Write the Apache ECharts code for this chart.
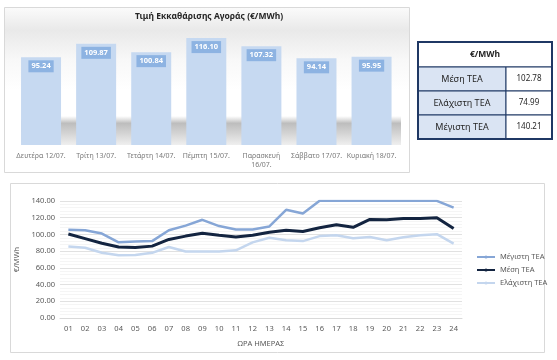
<!DOCTYPE html>
<html>
<head>
<meta charset="utf-8">
<script src="https://cdn.jsdelivr.net/npm/echarts@6/dist/echarts.min.js"></script>
<style>
html,body{margin:0;padding:0;background:#fff;}
#c{width:557px;height:360px;}
</style>
</head>
<body>
<div id="c"></div>
<script>
const barTitle = 'Τιμή Εκκαθάρισης Αγοράς (€/MWh)';
const days = ['Δευτέρα 12/07.', 'Τρίτη 13/07.', 'Τετάρτη 14/07.', 'Πέμπτη 15/07.', 'Παρασκευή 16/07.', 'Σάββατο 17/07.', 'Κυριακή 18/07.'];
const dailyPrice = [95.24, 109.87, 100.84, 116.10, 107.32, 94.14, 95.95];

const tableHeader = '€/MWh';
const tableLabels = ['Μέση ΤΕΑ', 'Ελάχιστη ΤΕΑ', 'Μέγιστη ΤΕΑ'];
const tableValues = [102.78, 74.99, 140.21];

const hours = ['01','02','03','04','05','06','07','08','09','10','11','12','13','14','15','16','17','18','19','20','21','22','23','24'];
const seriesNames = ['Μέγιστη ΤΕΑ', 'Μέση ΤΕΑ', 'Ελάχιστη ΤΕΑ'];
const maxTEA = [105.5, 105, 101, 90.5, 91.5, 92, 105, 110.5, 117.5, 110, 106, 106, 109.5, 129.5, 125, 140.21, 140.21, 140.21, 140.21, 140.21, 140.21, 140.21, 140.21, 132];
const meanTEA = [100.5, 95, 89.5, 85, 84.5, 86, 94, 98, 101.5, 99, 97, 99, 102.5, 105, 103.5, 108, 111.5, 108.5, 118, 117.5, 119, 119, 120, 107];
const minTEA = [85.5, 84, 78, 74.99, 75.5, 78, 85, 79.5, 79.5, 79.5, 81, 90.5, 96, 93, 92, 98, 99, 95.5, 97, 93, 96.5, 99, 100.3, 89];

const FONT = '"Noto Sans", "Open Sans", sans-serif';
const NAVY = '#1f3864';

// table graphic built from arrays
const tX = 418, tY = 42, c1 = 88, c2 = 46, hH = 25, rH = 24;
const tableEls = [];
tableEls.push({type:'rect', z:10, shape:{x:tX, y:tY, width:c1+c2, height:hH}, style:{fill:'#fff', stroke:NAVY, lineWidth:1}});
tableEls.push({type:'text', z:11, x:tX+(c1+c2)/2, y:tY+hH/2, style:{text:tableHeader, align:'center', verticalAlign:'middle', font:'bold 8.5px ' + FONT, fill:'#262626'}});
tableLabels.forEach(function(lab, i){
  const y = tY + hH + i*rH;
  tableEls.push({type:'rect', z:10, shape:{x:tX, y:y, width:c1, height:rH}, style:{fill:'#dae4f3', stroke:NAVY, lineWidth:1}});
  tableEls.push({type:'rect', z:10, shape:{x:tX+c1, y:y, width:c2, height:rH}, style:{fill:'#fff', stroke:NAVY, lineWidth:1}});
  tableEls.push({type:'text', z:11, x:tX+c1/2, y:y+rH/2, style:{text:lab, align:'center', verticalAlign:'middle', font:'9px ' + FONT, fill:'#262626'}});
  tableEls.push({type:'text', z:11, x:tX+c1+c2/2, y:y+rH/2, style:{text:tableValues[i].toFixed(2), align:'center', verticalAlign:'middle', font:'8px ' + FONT, fill:'#262626'}});
});
tableEls.push({type:'rect', z:12, shape:{x:tX, y:tY, width:c1+c2, height:hH+3*rH}, style:{fill:'none', stroke:NAVY, lineWidth:2}});

const chart = echarts.init(document.getElementById('c'), null, {renderer:'canvas'});
chart.setOption({
  animation:false,
  backgroundColor:'#ffffff',
  textStyle:{fontFamily:FONT},
  graphic:{elements:[
    {type:'rect', z:-10, shape:{x:4.5, y:7.5, width:405, height:165},
      style:{stroke:'#d9d9d9', lineWidth:1,
        fill:{type:'linear', x:0, y:0, x2:0, y2:1, colorStops:[
          {offset:0, color:'#fbfbfb'}, {offset:0.14, color:'#e9e9e9'}, {offset:0.32, color:'#f8f8f8'}, {offset:0.5, color:'#ffffff'}, {offset:1, color:'#ffffff'}]}}},
    {type:'rect', z:-9, shape:{x:21, y:116, width:380, height:29},
      style:{fill:{type:'linear', x:0, y:0, x2:0, y2:1, colorStops:[
        {offset:0, color:'rgba(200,200,200,0)'}, {offset:0.25, color:'#bdbdbd'}, {offset:0.6, color:'#d4d4d4'}, {offset:1, color:'#efefef'}]}}},
    {type:'text', z:5, x:209, y:17, style:{text:barTitle, align:'center', verticalAlign:'middle', font:'bold 8.5px ' + FONT, fill:'#262626'}},
    {type:'rect', z:-10, shape:{x:10.5, y:183.5, width:534, height:169}, style:{fill:'#fff', stroke:'#d9d9d9', lineWidth:1}}
  ].concat(tableEls)},
  grid:[
    {left:13.5, top:34.5, width:385.6, height:110.5},
    {left:60, top:201, width:402, height:117}
  ],
  xAxis:[
    {gridIndex:0, type:'category', data:days, axisLine:{show:false}, axisTick:{show:false},
      axisLabel:{interval:0, fontSize:7, color:'#7a7a7a', margin:6, lineHeight:9.5,
        formatter:function(v){ return v.length > 15 ? v.replace(' ', '\n') : v; }}},
    {gridIndex:1, type:'category', data:hours, axisLine:{lineStyle:{color:'#d9d9d9'}}, axisTick:{show:false},
      axisLabel:{interval:0, fontSize:7.5, color:'#595959', margin:7},
      name:'ΩΡΑ ΗΜΕΡΑΣ', nameLocation:'middle', nameGap:22, nameTextStyle:{fontSize:7.5, color:'#595959'}}
  ],
  yAxis:[
    {gridIndex:0, type:'value', min:0, max:120, show:false},
    {gridIndex:1, type:'value', min:0, max:140, interval:20,
      axisLine:{show:false}, axisTick:{show:false},
      axisLabel:{fontSize:7.5, color:'#595959', margin:5, formatter:function(v){return v.toFixed(2);}},
      splitLine:{lineStyle:{color:'#d9d9d9', width:0.8}},
      minorTick:{show:false, splitNumber:5},
      minorSplitLine:{show:true, lineStyle:{color:'#f2f2f2', width:0.8}},
      name:'€/MWh', nameLocation:'middle', nameGap:28, nameTextStyle:{fontSize:7.5, color:'#595959'}}
  ],
  legend:{orient:'vertical', left:471, top:248, itemWidth:18, itemHeight:4, itemGap:5,
    data:seriesNames, textStyle:{fontSize:7.5, color:'#595959'}},
  series:[
    {type:'bar', xAxisIndex:0, yAxisIndex:0, data:dailyPrice, barWidth:40, z:3,
      itemStyle:{color:'#c6d9f1'},
      label:{show:true, position:'insideTop', distance:3, color:'#ffffff', fontWeight:'bold', fontSize:7.5,
        backgroundColor:'#8db3e2', padding:[2,3,2,3], formatter:function(p){return p.value.toFixed(2);}}},
    {type:'line', name:seriesNames[0], xAxisIndex:1, yAxisIndex:1, data:maxTEA, symbol:'none', z:3,
      lineStyle:{color:'#86a6d6', width:2.5}, itemStyle:{color:'#86a6d6'}},
    {type:'line', name:seriesNames[1], xAxisIndex:1, yAxisIndex:1, data:meanTEA, symbol:'none', z:5,
      lineStyle:{color:'#132440', width:3}, itemStyle:{color:'#132440'}},
    {type:'line', name:seriesNames[2], xAxisIndex:1, yAxisIndex:1, data:minTEA, symbol:'none', z:4,
      lineStyle:{color:'#c4d6ee', width:2.5}, itemStyle:{color:'#c4d6ee'}}
  ]
});
</script>
</body>
</html>
